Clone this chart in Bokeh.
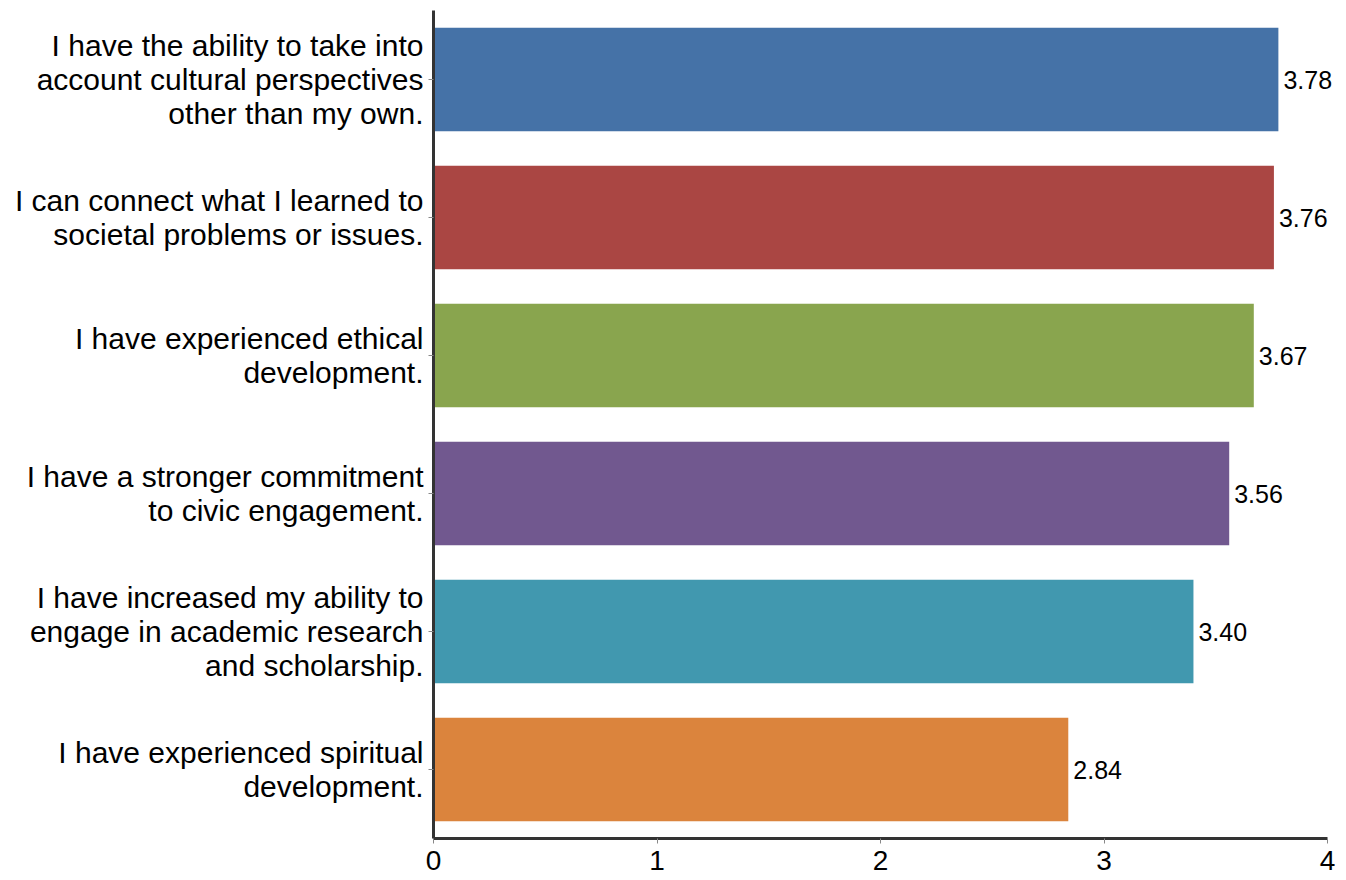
from bokeh.plotting import figure
from bokeh.models import ColumnDataSource, FixedTicker, LabelSet
from bokeh.core.properties import value
from bokeh.embed import file_html
from bokeh.resources import INLINE

categories = [
    "I have the ability to take into\naccount cultural perspectives\nother than my own.",
    "I can connect what I learned to\nsocietal problems or issues.",
    "I have experienced ethical\ndevelopment.",
    "I have a stronger commitment\nto civic engagement.",
    "I have increased my ability to\nengage in academic research\nand scholarship.",
    "I have experienced spiritual\ndevelopment.",
]
values = [3.78, 3.76, 3.67, 3.56, 3.40, 2.84]
colors = ["#4572A7", "#AA4643", "#89A54E", "#71588F", "#4198AF", "#DB843D"]
x_ticks = [0, 1, 2, 3, 4]

src = ColumnDataSource(dict(
    cat=categories, val=values, color=colors,
    lbl=[f"{v:.2f}" for v in values],
))

p = figure(
    y_range=list(reversed(categories)), x_range=(0, 4.04),
    width=1338, height=878, output_backend="svg", toolbar_location=None,
    min_border_left=433, min_border_right=2, min_border_top=10, min_border_bottom=40,
)
p.y_range.range_padding = 0
p.hbar(y="cat", right="val", left=0, height=0.75, color="color", source=src, line_color=None)

labels = LabelSet(x="val", y="cat", text="lbl", source=src, x_offset=5,
                  text_baseline="middle", text_align="left",
                  text_font=value("Liberation Sans"), text_font_size=value("25px"),
                  text_color=value("#000000"))
p.add_layout(labels)

p.outline_line_color = None
p.grid.grid_line_color = None
p.background_fill_color = "white"

p.xaxis.ticker = FixedTicker(ticks=x_ticks)
p.xaxis.bounds = (0, 4)
p.xaxis.axis_line_width = 3
p.xaxis.axis_line_color = "#333333"
p.xaxis.major_tick_line_color = "#888888"
p.xaxis.major_tick_out = 5
p.xaxis.major_tick_in = 0
p.xaxis.minor_tick_line_color = None
p.xaxis.major_label_text_font = "Liberation Sans"
p.xaxis.major_label_text_font_size = "28px"
p.xaxis.major_label_text_color = "#000000"
p.xaxis.major_label_standoff = 7

p.yaxis.axis_line_width = 3
p.yaxis.axis_line_color = "#333333"
p.yaxis.major_tick_line_color = "#888888"
p.yaxis.major_tick_out = 5
p.yaxis.major_tick_in = 0
p.yaxis.major_label_text_font = "Liberation Sans"
p.yaxis.major_label_text_font_size = "30px"
p.yaxis.major_label_text_color = "#000000"
p.yaxis.major_label_standoff = 5
p.yaxis.major_label_text_line_height = 1.03

open("out.html", "w").write(file_html(p, INLINE))
